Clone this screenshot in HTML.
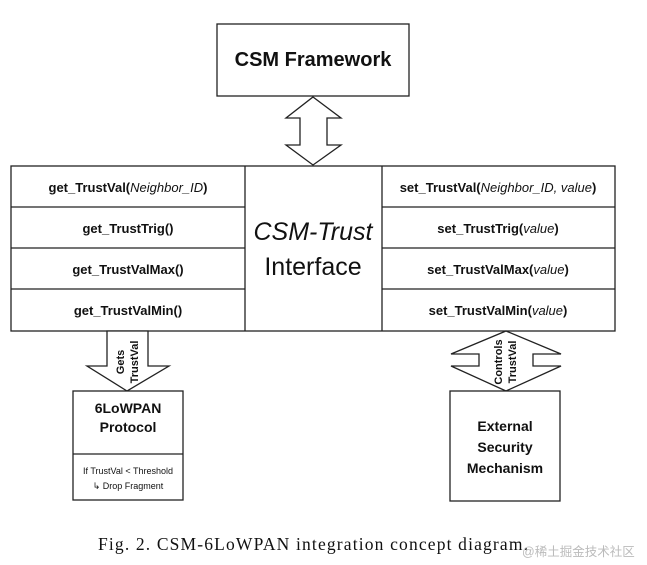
<!DOCTYPE html>
<html><head><meta charset="utf-8"><style>
html,body{margin:0;padding:0;background:#fff;width:647px;height:565px;overflow:hidden}
svg{display:block}
.c{font-family:"Liberation Sans","DejaVu Sans",sans-serif;font-weight:bold;font-size:13px;fill:#111;text-anchor:middle}
.i{font-weight:normal;font-style:italic}
</style></head><body>
<svg width="647" height="565" viewBox="0 0 647 565" xmlns="http://www.w3.org/2000/svg">
<g fill="#fff" stroke="#222" stroke-width="1.3">
<rect x="217" y="24" width="192" height="72"/>
<polygon points="313,97 341,118 327,118 327,145 341,145 313,165 286,145 300,145 300,118 286,118"/>
<rect x="11" y="166" width="604" height="165"/>
<line x1="245" y1="166" x2="245" y2="331"/>
<line x1="382" y1="166" x2="382" y2="331"/>
<line x1="11" y1="207" x2="245" y2="207"/><line x1="11" y1="248" x2="245" y2="248"/><line x1="11" y1="289" x2="245" y2="289"/>
<line x1="382" y1="207" x2="615" y2="207"/><line x1="382" y1="248" x2="615" y2="248"/><line x1="382" y1="289" x2="615" y2="289"/>
<polygon points="107,331 148,331 148,366 169,366 127,391 87,366 107,366"/>
<rect x="73" y="391" width="110" height="109"/>
<line x1="73" y1="454" x2="183" y2="454"/>
<polygon points="506,331 561,354 533,354 533,366 561,366 506,391 451,366 479,366 479,354 451,354"/>
<rect x="450" y="391" width="110" height="110"/>
</g>
<text class="c" x="313" y="66" style="font-size:20px">CSM Framework</text>
<text class="c" x="128" y="192">get_TrustVal(<tspan class="i">Neighbor_ID</tspan>)</text>
<text class="c" x="128" y="233">get_TrustTrig()</text>
<text class="c" x="128" y="274">get_TrustValMax()</text>
<text class="c" x="128" y="315">get_TrustValMin()</text>
<text class="c" x="498" y="192">set_TrustVal(<tspan class="i">Neighbor_ID, value</tspan>)</text>
<text class="c" x="498" y="233">set_TrustTrig(<tspan class="i">value</tspan>)</text>
<text class="c" x="498" y="274">set_TrustValMax(<tspan class="i">value</tspan>)</text>
<text class="c" x="498" y="315">set_TrustValMin(<tspan class="i">value</tspan>)</text>
<text class="c i" x="313" y="240" style="font-size:25px">CSM-Trust</text>
<text class="c" x="313" y="275" style="font-size:25px;font-weight:normal">Interface</text>
<text class="c" transform="translate(124,362) rotate(-90)" style="font-size:11px;text-anchor:middle">Gets</text>
<text class="c" transform="translate(138,362) rotate(-90)" style="font-size:11px;text-anchor:middle">TrustVal</text>
<text class="c" transform="translate(502,362) rotate(-90)" style="font-size:11px;text-anchor:middle">Controls</text>
<text class="c" transform="translate(516,362) rotate(-90)" style="font-size:11px;text-anchor:middle">TrustVal</text>
<text class="c" x="128" y="413" style="font-size:14px">6LoWPAN</text>
<text class="c" x="128" y="432" style="font-size:14px">Protocol</text>
<text class="c" x="128" y="474" style="font-size:9px;font-weight:normal">If TrustVal &lt; Threshold</text>
<text class="c" x="128" y="489" style="font-size:9px;font-weight:normal">↳ Drop Fragment</text>
<text class="c" x="505" y="431" style="font-size:14px">External</text>
<text class="c" x="505" y="452" style="font-size:14px">Security</text>
<text class="c" x="505" y="473" style="font-size:14px">Mechanism</text>
<text x="98" y="550" textLength="430" lengthAdjust="spacing" style="font-family:'Liberation Serif',serif;font-size:17.5px;fill:#111">Fig. 2.  CSM-6LoWPAN integration concept diagram.</text>
<text x="522" y="556" style="font-family:'Liberation Sans','Noto Sans CJK SC',sans-serif;font-size:12.5px;fill:#bbb">@稀土掘金技术社区</text>
</svg>
</body></html>
